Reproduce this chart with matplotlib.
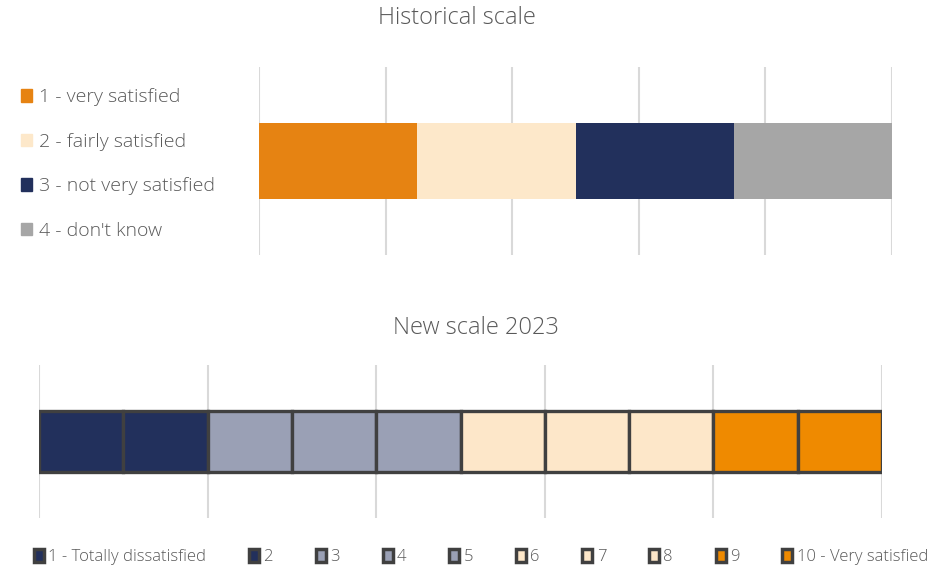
import matplotlib
matplotlib.use("Agg")
import matplotlib.pyplot as plt
from matplotlib.patches import Patch

plt.rcParams['font.family'] = ['Open Sans', 'DejaVu Sans']

# Data
hist_labels = ["1 - very satisfied", "2 - fairly satisfied", "3 - not very satisfied", "4 - don't know"]
hist_values = [25, 25, 25, 25]
hist_colors = ["#E68312", "#FDE8CA", "#22305C", "#A6A6A6"]

new_labels = ["1 - Totally dissatisfied", "2", "3", "4", "5", "6", "7", "8", "9", "10 - Very satisfied"]
new_values = [10] * 10
new_colors = ["#22305C", "#22305C", "#9AA0B5", "#9AA0B5", "#9AA0B5",
              "#FDE7C9", "#FDE7C9", "#FDE7C9", "#EF8A00", "#EF8A00"]

W, H = 948, 569
fig = plt.figure(figsize=(W / 100, H / 100), dpi=100)
txt = "#595959"
grid = "#D9D9D9"

def ax_rect(x0, y0, x1, y1):
    return [x0 / W, 1 - y1 / H, (x1 - x0) / W, (y1 - y0) / H]

# Top chart
ax1 = fig.add_axes(ax_rect(259, 67, 892, 255))
left = 0
for v, c, l in zip(hist_values, hist_colors, hist_labels):
    ax1.barh(0, v, left=left, height=0.404, color=c, label=l, zorder=3)
    left += v
ax1.set_xlim(0, 100)
ax1.set_ylim(-0.5, 0.5)
ax1.set_xticks(range(0, 101, 20))
ax1.grid(axis='x', color=grid, linewidth=1.5, zorder=0)
ax1.tick_params(left=False, bottom=False, labelleft=False, labelbottom=False)
for s in ax1.spines.values():
    s.set_visible(False)
fig.text(457 / W, 1 - 18 / H, "Historical scale", ha='center', va='center', fontsize=17,
         color=txt, fontweight='light')

h1 = [Patch(color=c, label=l) for c, l in zip(hist_colors, hist_labels)]
fig.legend(handles=h1, loc='upper left', bbox_to_anchor=(3 / W, 1 - 71 / H), frameon=False,
           labelcolor=txt, handlelength=0.6, handleheight=0.6,
           handletextpad=0.33, labelspacing=1.36, prop={'size': 14, 'weight': 'light'})

# Bottom chart
ax2 = fig.add_axes(ax_rect(39, 365, 882, 518))
left = 0
for v, c, l in zip(new_values, new_colors, new_labels):
    ax2.barh(0, v, left=left, height=0.405, color=c, edgecolor="#404040", linewidth=2.4,
             label=l, zorder=3)
    left += v
ax2.set_xlim(0, 100)
ax2.set_ylim(-0.5, 0.5)
ax2.set_xticks(range(0, 101, 20))
ax2.grid(axis='x', color=grid, linewidth=1.5, zorder=0)
ax2.tick_params(left=False, bottom=False, labelleft=False, labelbottom=False)
for s in ax2.spines.values():
    s.set_visible(False)
fig.text(476 / W, 1 - 328 / H, "New scale 2023", ha='center', va='center', fontsize=17,
         color=txt, fontweight='light')

h2 = [Patch(facecolor=c, edgecolor="#404040", linewidth=2.5, label=l) for c, l in zip(new_colors, new_labels)]
fig.legend(handles=h2, loc='center', bbox_to_anchor=(481 / W, 1 - 557 / H), frameon=False,
           ncol=10, labelcolor=txt, handlelength=0.6, handleheight=0.8,
           handletextpad=0.25, columnspacing=2.58, prop={'size': 12, 'weight': 'light'})

fig.savefig("out.png", dpi=100)
